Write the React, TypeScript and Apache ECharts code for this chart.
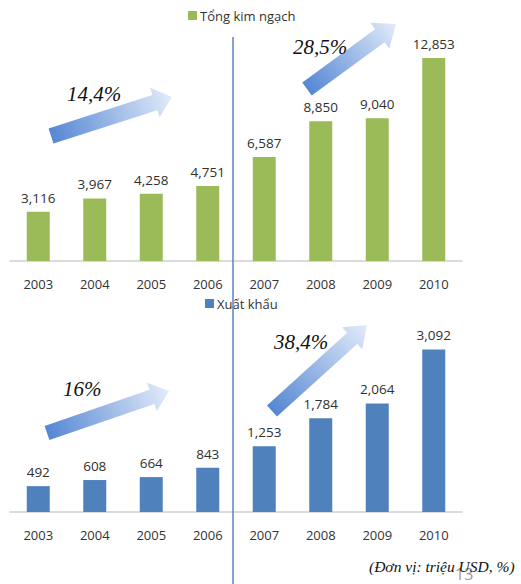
import React, { useEffect, useRef } from "react";
import * as echarts from "echarts";

const years = ["2003", "2004", "2005", "2006", "2007", "2008", "2009", "2010"];
const totalTrade = [3116, 3967, 4258, 4751, 6587, 8850, 9040, 12853];
const exportsVal = [492, 608, 664, 843, 1253, 1784, 2064, 3092];
const growthLabels = ["14,4%", "28,5%", "16%", "38,4%"];
const seriesNames = ["Tổng kim ngạch", "Xuất khẩu"];
const footnote = "(Đơn vị: triệu USD, %)";
const pageNo = "13";

type P = [number, number];
function arrow(tail: P, tip: P, w: number, hw: number, hl: number): number[][] {
  const dx = tip[0] - tail[0];
  const dy = tip[1] - tail[1];
  const L = Math.hypot(dx, dy);
  const ux = dx / L, uy = dy / L;
  const nx = -uy, ny = ux;
  const bx = tip[0] - ux * hl, by = tip[1] - uy * hl;
  return [
    [tail[0] + nx * w / 2, tail[1] + ny * w / 2],
    [bx + nx * w / 2, by + ny * w / 2],
    [bx + nx * hw / 2, by + ny * hw / 2],
    [tip[0], tip[1]],
    [bx - nx * hw / 2, by - ny * hw / 2],
    [bx - nx * w / 2, by - ny * w / 2],
    [tail[0] - nx * w / 2, tail[1] - ny * w / 2],
  ];
}

function arrowGraphic(tail: P, tip: P, w: number, hw: number, hl: number) {
  return {
    type: "polygon",
    shape: { points: arrow(tail, tip, w, hw, hl) },
    style: {
      fill: new echarts.graphic.LinearGradient(
        tail[0], tail[1], tip[0], tip[1],
        [
          { offset: 0, color: "#5587d4" },
          { offset: 1, color: "#e2ebf9" },
        ],
        true
      ),
    },
    z: 10,
  };
}

const pctStyle = {
  fill: "#111",
  font: "italic 21px 'Liberation Serif', serif",
};

export default function App() {
  const ref = useRef<HTMLDivElement>(null);
  useEffect(() => {
    const chart = echarts.init(ref.current!, null, { renderer: "svg" });
    const fmt = (p: any) => Number(p.value).toLocaleString("en-US");
    const labelCommon = {
      show: true,
      position: "top",
      distance: 7,
      color: "#303030",
      fontSize: 13.5,
      fontFamily: "'Open Sans', sans-serif",
      formatter: fmt,
    };
    const xCommon = {
      type: "category",
      data: years,
      axisLine: { lineStyle: { color: "#d0d0d0", width: 1.5 } },
      axisTick: { show: false },
      axisLabel: {
        color: "#333",
        fontSize: 13,
        fontFamily: "'Open Sans', sans-serif",
        margin: 16,
      },
    };
    chart.setOption({
      animation: false,
      backgroundColor: "#fff",
      legend: [
        {
          data: [seriesNames[0]],
          left: 183,
          top: 4,
          icon: "rect",
          itemWidth: 9,
          itemHeight: 9,
          itemGap: 3,
          textStyle: { color: "#333", fontSize: 13, fontFamily: "'Open Sans', sans-serif", padding: [0, 0, 0, -2] },
        },
        {
          data: [seriesNames[1]],
          left: 200,
          top: 292,
          icon: "rect",
          itemWidth: 9,
          itemHeight: 9,
          textStyle: { color: "#333", fontSize: 13, fontFamily: "'Open Sans', sans-serif", padding: [0, 0, 0, -2] },
        },
      ],
      grid: [
        { left: 10, right: 59, top: 40, height: 221 },
        { left: 10, right: 59, top: 328, height: 184 },
      ],
      xAxis: [
        { ...xCommon, gridIndex: 0 },
        { ...xCommon, gridIndex: 1 },
      ],
      yAxis: [
        { type: "value", gridIndex: 0, min: 0, max: 14000, show: false, splitLine: { show: false } },
        { type: "value", gridIndex: 1, min: 0, max: 3500, show: false, splitLine: { show: false } },
      ],
      series: [
        {
          name: seriesNames[0],
          type: "bar",
          xAxisIndex: 0,
          yAxisIndex: 0,
          data: totalTrade,
          barWidth: 23,
          itemStyle: { color: "#9bbb59" },
          label: labelCommon,
        },
        {
          name: seriesNames[1],
          type: "bar",
          xAxisIndex: 1,
          yAxisIndex: 1,
          data: exportsVal,
          barWidth: 23,
          itemStyle: { color: "#4f81bd" },
          label: labelCommon,
        },
      ],
      graphic: [
        {
          type: "line",
          shape: { x1: 233, y1: 37, x2: 233, y2: 584 },
          style: { stroke: "#5a82c4", lineWidth: 1.5 },
          z: 20,
        },
        arrowGraphic([51, 136], [172, 97], 16, 31, 18),
        arrowGraphic([307, 89], [396, 24], 16, 32, 20),
        arrowGraphic([47, 433], [169, 391], 15, 30, 18),
        arrowGraphic([272, 411], [367, 325], 15, 30, 20),
        { type: "text", x: 67, y: 83, style: { text: growthLabels[0], ...pctStyle }, z: 11 },
        { type: "text", x: 293, y: 36, style: { text: growthLabels[1], ...pctStyle }, z: 11 },
        { type: "text", x: 63, y: 378, style: { text: growthLabels[2], ...pctStyle }, z: 11 },
        { type: "text", x: 274, y: 331, style: { text: growthLabels[3], ...pctStyle }, z: 11 },
        {
          type: "text",
          x: 455,
          y: 566,
          style: { text: pageNo, fill: "#9a9a9a", font: "16px 'Open Sans', sans-serif" },
          z: 11,
        },
        {
          type: "text",
          x: 369,
          y: 558,
          style: { text: footnote, fill: "#111", font: "italic 15.5px 'Liberation Serif', serif" },
          z: 12,
        },
      ],
    });
    return () => chart.dispose();
  }, []);
  return (
    <div
      ref={ref}
      style={{ position: "fixed", left: 0, top: 0, width: 521, height: 584 }}
    />
  );
}
